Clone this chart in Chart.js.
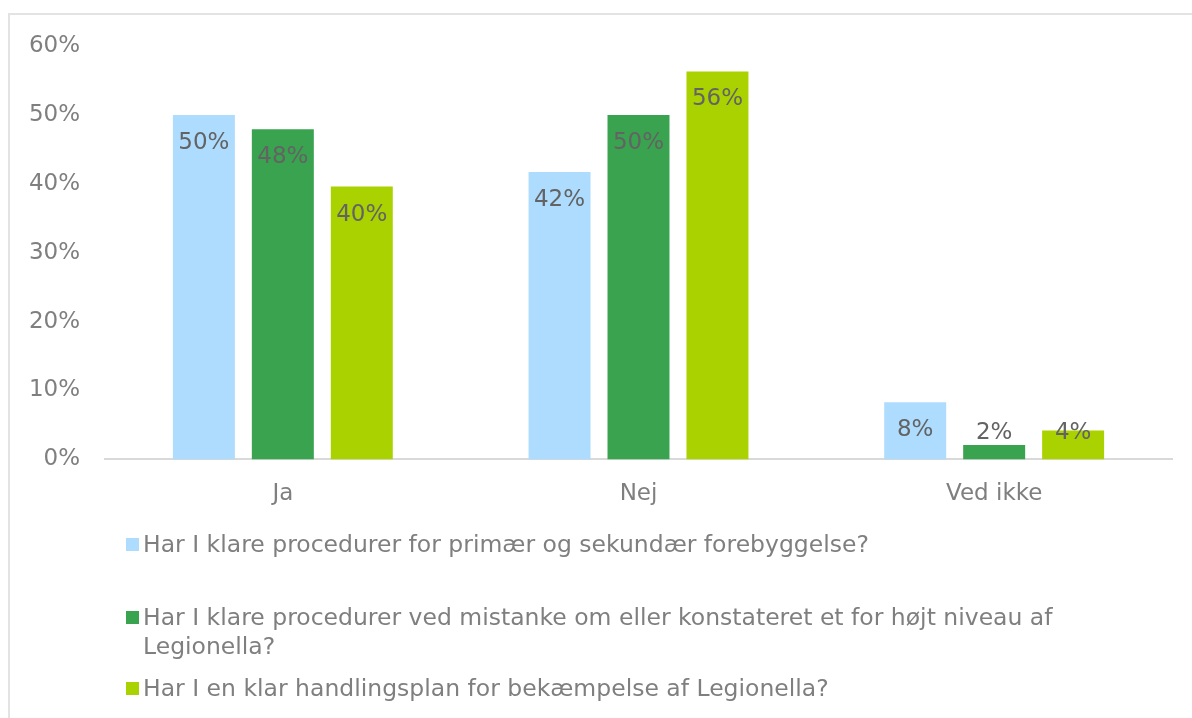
<!DOCTYPE html>
<html>
<head>
<meta charset="utf-8">
<script src="https://cdn.jsdelivr.net/npm/chart.js@4.4.0/dist/chart.umd.min.js"></script>
<style>
    html, body { margin: 0; padding: 0; background: #fff; overflow: hidden; }
    #wrap { position: relative; width: 1192px; height: 718px; }
    #frame {
        position: absolute; left: 8px; top: 13px; width: 1190px; height: 720px;
        border-left: 2px solid #e3e3e3; border-top: 2px solid #e3e3e3; box-sizing: border-box;
    }
    #chart { position: absolute; left: 0; top: 0; }
    .leg {
        position: absolute; left: 126px; width: 965px;
        font-family: "DejaVu Sans", Verdana, sans-serif; font-size: 23.5px; line-height: 29px;
        color: #7f7f7f;
    }
    .leg .sw { position: absolute; left: 0; top: 8px; width: 13px; height: 13px; }
    .leg .txt { margin-left: 17px; }
</style>
</head>
<body>
<div id="wrap">
    <div id="frame"></div>
    <canvas id="chart" width="1192" height="718"></canvas>
    <div id="legend"></div>
</div>
<script>
// ── Data ──────────────────────────────────────────────────────────────────────
const kategorier = ['Ja', 'Nej', 'Ved ikke'];
const serieNavne = [
    'Har I klare procedurer for primær og sekundær forebyggelse?',
    'Har I klare procedurer ved mistanke om eller konstateret et for højt niveau af Legionella?',
    'Har I en klar handlingsplan for bekæmpelse af Legionella?'
];
const forebyggelse   = [50.0, 41.7, 8.3];
const mistanke       = [47.9, 50.0, 2.1];
const handlingsplan  = [39.6, 56.3, 4.2];
const farver = ['#addcfe', '#3aa34f', '#aad200'];
const yTicks = [0, 10, 20, 30, 40, 50, 60];

// legend rows (top of each item, px)
const legendTop = [530, 603, 674];

const FONT = '"DejaVu Sans", Verdana, sans-serif';

// ── Value labels (inside end) ────────────────────────────────────────────────
const valueLabels = {
    id: 'valueLabels',
    afterDatasetsDraw(chart) {
        const ctx = chart.ctx;
        const base = chart.scales.y.getPixelForValue(0);
        ctx.save();
        ctx.font = `23px ${FONT}`;
        ctx.fillStyle = '#636363';
        ctx.textAlign = 'center';
        ctx.textBaseline = 'middle';
        chart.data.datasets.forEach((ds, i) => {
            chart.getDatasetMeta(i).data.forEach((bar, j) => {
                const y = Math.min(bar.y + 28, base - 26);
                ctx.fillText(Math.round(ds.data[j]) + '%', bar.x, y);
            });
        });
        ctx.restore();
    }
};

new Chart(document.getElementById('chart').getContext('2d'), {
    type: 'bar',
    data: {
        labels: kategorier,
        datasets: [
            { label: serieNavne[0], data: forebyggelse,  backgroundColor: farver[0] },
            { label: serieNavne[1], data: mistanke,      backgroundColor: farver[1] },
            { label: serieNavne[2], data: handlingsplan, backgroundColor: farver[2] }
        ]
    },
    options: {
        responsive: false,
        animation: false,
        categoryPercentage: 0.666,
        barPercentage: 0.785,
        layout: { padding: { left: 10, top: 46, right: 20, bottom: 189 } },
        plugins: { legend: { display: false }, tooltip: { enabled: false } },
        scales: {
            x: {
                grid: { display: false, drawTicks: false },
                border: { color: '#d9d9d9', width: 2 },
                ticks: { color: '#7f7f7f', padding: 21, font: { family: FONT, size: 23 } }
            },
            y: {
                min: 0, max: 60,
                afterFit: s => { s.width = 95; },
                afterBuildTicks: s => { s.ticks = yTicks.map(v => ({ value: v })); },
                grid: { display: false, drawTicks: false },
                border: { display: false },
                ticks: {
                    color: '#7f7f7f', padding: 25,
                    font: { family: FONT, size: 23 },
                    callback: v => v + '%'
                }
            }
        }
    },
    plugins: [valueLabels]
});

// ── HTML legend ──────────────────────────────────────────────────────────────
const legendEl = document.getElementById('legend');
serieNavne.forEach((navn, i) => {
    const row = document.createElement('div');
    row.className = 'leg';
    row.style.top = legendTop[i] + 'px';
    row.innerHTML = `<span class="sw" style="background:${farver[i]}"></span><div class="txt">${navn}</div>`;
    legendEl.appendChild(row);
});
</script>
</body>
</html>
